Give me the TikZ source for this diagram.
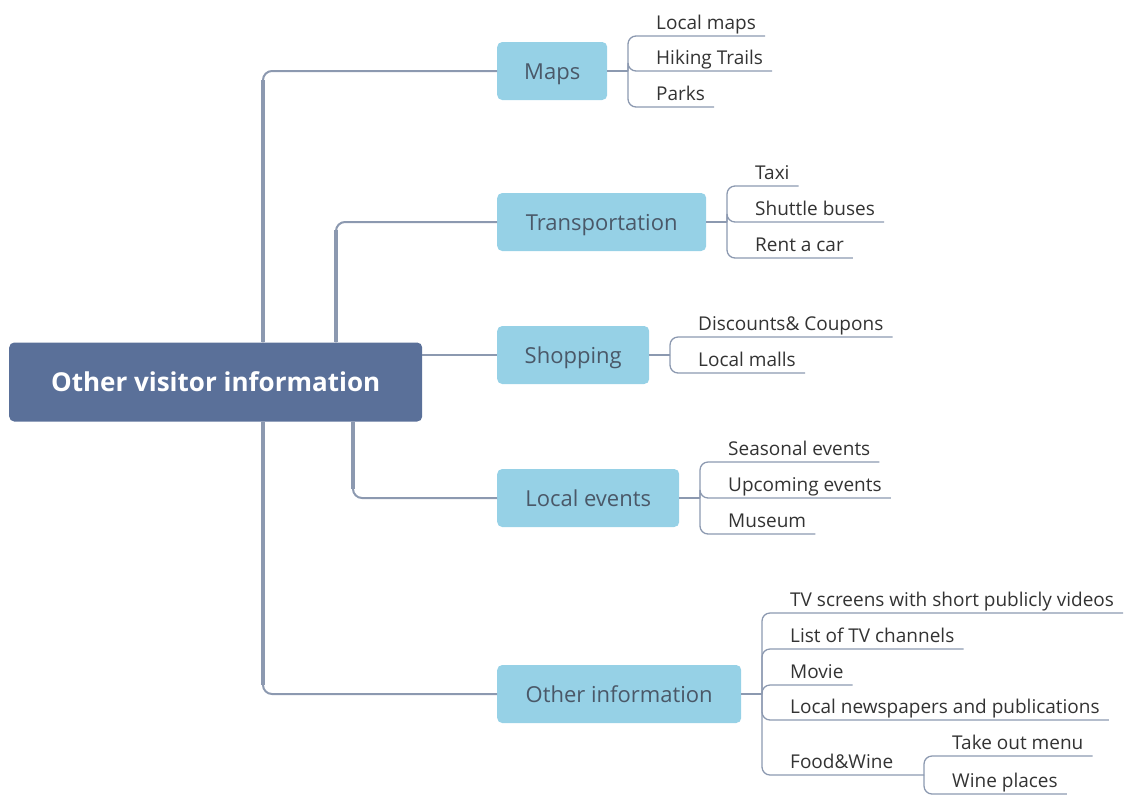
\documentclass[tikz,border=0pt]{standalone}
\usepackage{fontspec}
\setmainfont{Open Sans}
\usetikzlibrary{calc}
\definecolor{rootfill}{HTML}{5A7099}
\definecolor{boxfill}{HTML}{96D1E6}
\definecolor{boxtext}{HTML}{4A5868}
\definecolor{linecol}{HTML}{8C99B0}
\definecolor{leaftext}{HTML}{333333}
\tikzset{
  rootbox/.style={draw=none, fill=rootfill, rounded corners=5pt, text=white, inner sep=0pt,
    minimum height=79pt, anchor=west, font=\fontsize{26}{30}\selectfont\bfseries},
  branchbox/.style={draw=none, fill=boxfill, rounded corners=5pt, text=boxtext, inner sep=0pt,
    minimum height=58pt, anchor=west, text height=16pt, text depth=0pt,
    font=\fontsize{22}{26}\selectfont},
  leaf/.style={inner sep=0pt, text depth=6pt, anchor=south west, text=leaftext,
    font=\fontsize{19}{23}\selectfont},
  trunkthin/.style={draw=linecol, line width=2pt, rounded corners=9pt},
  trunkthick/.style={draw=linecol, line width=3.2pt},
  twig/.style={draw=linecol, line width=1.3pt, rounded corners=8pt},
}
\begin{document}
\begin{tikzpicture}[x=1pt,y=-1pt]
\useasboundingbox (0,0) rectangle (1139,796);

% root and branches
\node[rootbox, minimum width=413pt] (root) at (9,382) {Other visitor information};
\node[branchbox, minimum width=110pt] (maps) at (497,71) {Maps};
\node[branchbox, minimum width=209pt] (trans) at (497,222) {Transportation};
\node[branchbox, minimum width=152pt] (shop) at (497,355) {Shopping};
\node[branchbox, minimum width=182pt] (events) at (497,498) {Local events};
\node[branchbox, minimum width=244pt] (other) at (497,694) {Other information};

% trunk connectors
\draw[trunkthin] ([xshift=254pt]root.north west) |- (maps.west);
\draw[trunkthick] ([xshift=254pt]root.north west) -- ++(0,-262);
\draw[trunkthin] ([xshift=327pt]root.north west) |- (trans.west);
\draw[trunkthick] ([xshift=327pt]root.north west) -- ++(0,-112);
\draw[trunkthin] (root.east |- shop.west) -- (shop.west);
\draw[trunkthin] ([xshift=344pt]root.south west) |- (events.west);
\draw[trunkthick] ([xshift=344pt]root.south west) -- ++(0,67);
\draw[trunkthin] ([xshift=254pt]root.south west) |- (other.west);
\draw[trunkthick] ([xshift=254pt]root.south west) -- ++(0,263);

% junctions
\coordinate (mj) at (628,71);
\coordinate (tj) at (727,222);
\coordinate (sj) at (670,355);
\coordinate (ej) at (700,498);
\coordinate (oj) at (762,694);
\coordinate (fj) at (924,775);

% Maps leaves
\node[leaf] (m1) at (656,36) {Local maps};
\node[leaf] (m2) at (656,71) {Hiking Trails};
\node[leaf] (m3) at (656,107) {Parks};
\draw[twig] (maps.east) -- (mj);
\foreach \n in {m1,m2,m3} \draw[twig] (mj) |- ([xshift=9pt]\n.south east);

% Transportation leaves
\node[leaf] (t1) at (755,186) {Taxi};
\node[leaf] (t2) at (755,222) {Shuttle buses};
\node[leaf] (t3) at (755,258) {Rent a car};
\draw[twig] (trans.east) -- (tj);
\foreach \n in {t1,t2,t3} \draw[twig] (tj) |- ([xshift=9pt]\n.south east);

% Shopping leaves
\node[leaf] (s1) at (698,337) {Discounts\& Coupons};
\node[leaf] (s2) at (698,373) {Local malls};
\draw[twig] (shop.east) -- (sj);
\foreach \n in {s1,s2} \draw[twig] (sj) |- ([xshift=9pt]\n.south east);

% Local events leaves
\node[leaf] (e1) at (728,462) {Seasonal events};
\node[leaf] (e2) at (728,498) {Upcoming events};
\node[leaf] (e3) at (728,534) {Museum};
\draw[twig] (events.east) -- (ej);
\foreach \n in {e1,e2,e3} \draw[twig] (ej) |- ([xshift=9pt]\n.south east);

% Other information leaves
\node[leaf] (o1) at (790,613) {TV screens with short publicly videos};
\node[leaf] (o2) at (790,649) {List of TV channels};
\node[leaf] (o3) at (790,685) {Movie};
\node[leaf] (o4) at (790,720) {Local newspapers and publications};
\node[leaf] (o5) at (790,775) {Food\&Wine};
\draw[twig] (other.east) -- (oj);
\foreach \n in {o1,o2,o3,o4} \draw[twig] (oj) |- ([xshift=9pt]\n.south east);
\draw[twig] (oj) |- (fj);

% Food&Wine leaves
\node[leaf] (f1) at (952,756) {Take out menu};
\node[leaf] (f2) at (952,794) {Wine places};
\foreach \n in {f1,f2} \draw[twig] (fj) |- ([xshift=9pt]\n.south east);
\end{tikzpicture}
\end{document}
